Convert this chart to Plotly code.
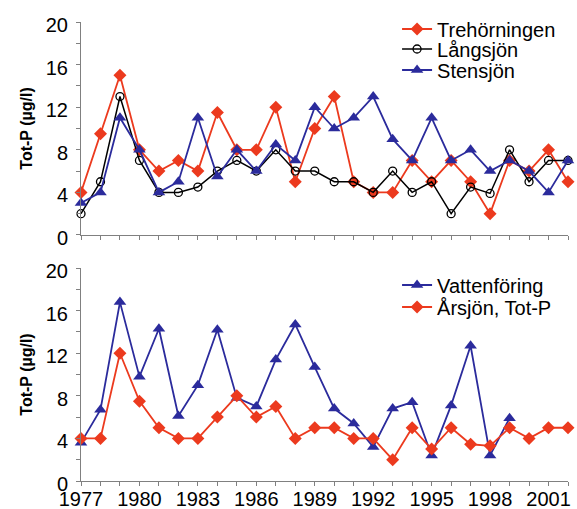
import plotly.graph_objects as go

years = list(range(1977, 2003))

# Top panel
trehorningen = [4, 9.5, 15, 8, 6, 7, 6, 11.5, 8, 8, 12, 5, 10, 13, 5, 4, 4, 7, 5, 7, 5, 2, 7, 6, 8, 5]
langsjon = [2, 5, 13, 7, 4, 4, 4.5, 6, 7, 6, 8, 6, 6, 5, 5, 4, 6, 4, 5, 2, 4.5, 3.9, 8, 5, 7, 7]
stensjon = [3, 4, 11, 8, 4, 5, 11, 5.5, 8, 6, 8.5, 7, 12, 10, 11, 13, 9, 7, 11, 7, 8, 6, 7, 6, 4, 7]

# Bottom panel
vatten_years = list(range(1977, 2000))
vattenforing = [3.6, 6.7, 16.8, 9.8, 14.3, 6.1, 9.0, 14.2, 7.8, 7.0, 11.4, 14.7, 10.7,
                6.8, 5.4, 3.2, 6.8, 7.4, 2.4, 7.1, 12.7, 2.4, 5.9]
arsjon = [4, 4, 12, 7.5, 5, 4, 4, 6, 8, 6, 7, 4, 5, 5, 4, 4, 2, 5, 3, 5, 3.45, 3.3, 5, 4, 5, 5]

y_ticks = [0, 4, 8, 12, 16, 20]
x_ticks = list(range(1977, 2002, 3))

RED = "#ec3a1e"
BLUE = "#2b2b9c"
BLACK = "#000000"
FONT = "Liberation Sans, Arial, sans-serif"

fig = go.Figure()

fig.add_trace(go.Scatter(x=years, y=trehorningen, name="Trehörningen", mode="lines+markers",
                         line=dict(color=RED, width=1.8),
                         marker=dict(symbol="diamond", size=10, color=RED),
                         xaxis="x", yaxis="y", legend="legend", cliponaxis=False))
fig.add_trace(go.Scatter(x=years, y=langsjon, name="Långsjön", mode="lines+markers",
                         line=dict(color=BLACK, width=1.5),
                         marker=dict(symbol="circle-open", size=8, color=BLACK, line=dict(width=1.3)),
                         xaxis="x", yaxis="y", legend="legend3", cliponaxis=False))
fig.add_trace(go.Scatter(x=years, y=stensjon, name="Stensjön", mode="lines+markers",
                         line=dict(color=BLUE, width=1.8),
                         marker=dict(symbol="triangle-up", size=11, color=BLUE),
                         xaxis="x", yaxis="y", legend="legend4", cliponaxis=False))

fig.add_trace(go.Scatter(x=vatten_years, y=vattenforing, name="Vattenföring", mode="lines+markers",
                         line=dict(color=BLUE, width=1.8),
                         marker=dict(symbol="triangle-up", size=11, color=BLUE),
                         xaxis="x2", yaxis="y2", legend="legend2", cliponaxis=False))
fig.add_trace(go.Scatter(x=years, y=arsjon, name="Årsjön, Tot-P", mode="lines+markers",
                         line=dict(color=RED, width=1.8),
                         marker=dict(symbol="diamond", size=10, color=RED),
                         xaxis="x2", yaxis="y2", legend="legend5", cliponaxis=False))

axis_common = dict(showline=True, linecolor="#808080", linewidth=1, showgrid=False, zeroline=False,
                   ticks="outside", ticklen=4, tickcolor="#808080", automargin=False,
                   tickfont=dict(size=20, color="#000000", family=FONT))

title_font = dict(size=16, family=FONT, color="#000000")

def leg(x, y):
    return dict(x=x, y=y, xanchor="left", yanchor="middle", bgcolor="rgba(0,0,0,0)",
                font=dict(size=20, family=FONT, color="#000000"), tracegroupgap=0)

LX = 0.649
fig.update_layout(
    width=577, height=509,
    margin=dict(l=81, r=9, t=22, b=28),
    paper_bgcolor="white", plot_bgcolor="white",
    font=dict(family=FONT, color="#000000"),
    xaxis=dict(domain=[0, 1], range=[1977, 2002], anchor="y", tickvals=x_ticks, showticklabels=False,
               minor=dict(dtick=1, tick0=1977, ticks="outside", ticklen=4, tickcolor="#808080"),
               **axis_common),
    yaxis=dict(domain=[0.536, 1], range=[0, 20], anchor="x", tickvals=y_ticks, ticklabelstandoff=4,
               ticklabelshift=3,
               minor=dict(dtick=2, tick0=0, ticks="outside", ticklen=4, tickcolor="#808080"),
               title=dict(text="<b>Tot-P (µg/l)</b>", font=title_font, standoff=9),
               **axis_common),
    xaxis2=dict(domain=[0, 1], range=[1977, 2002], anchor="y2", tickvals=x_ticks, ticklabelstandoff=-4,
                minor=dict(dtick=1, tick0=1977, ticks="outside", ticklen=4, tickcolor="#808080"),
                **axis_common),
    yaxis2=dict(domain=[0, 0.464], range=[0, 20], anchor="x2", tickvals=y_ticks, ticklabelstandoff=4,
                ticklabelshift=3,
                minor=dict(dtick=2, tick0=0, ticks="outside", ticklen=4, tickcolor="#808080"),
                title=dict(text="<b>Tot-P (µg/l)</b>", font=title_font, standoff=9),
                **axis_common),
    legend=leg(LX, 0.9847),
    legend3=leg(LX, 0.9412),
    legend4=leg(LX, 0.8954),
    legend2=leg(LX, 0.4270),
    legend5=leg(LX, 0.3791),
    showlegend=True,
)

fig.write_html("out.html")
